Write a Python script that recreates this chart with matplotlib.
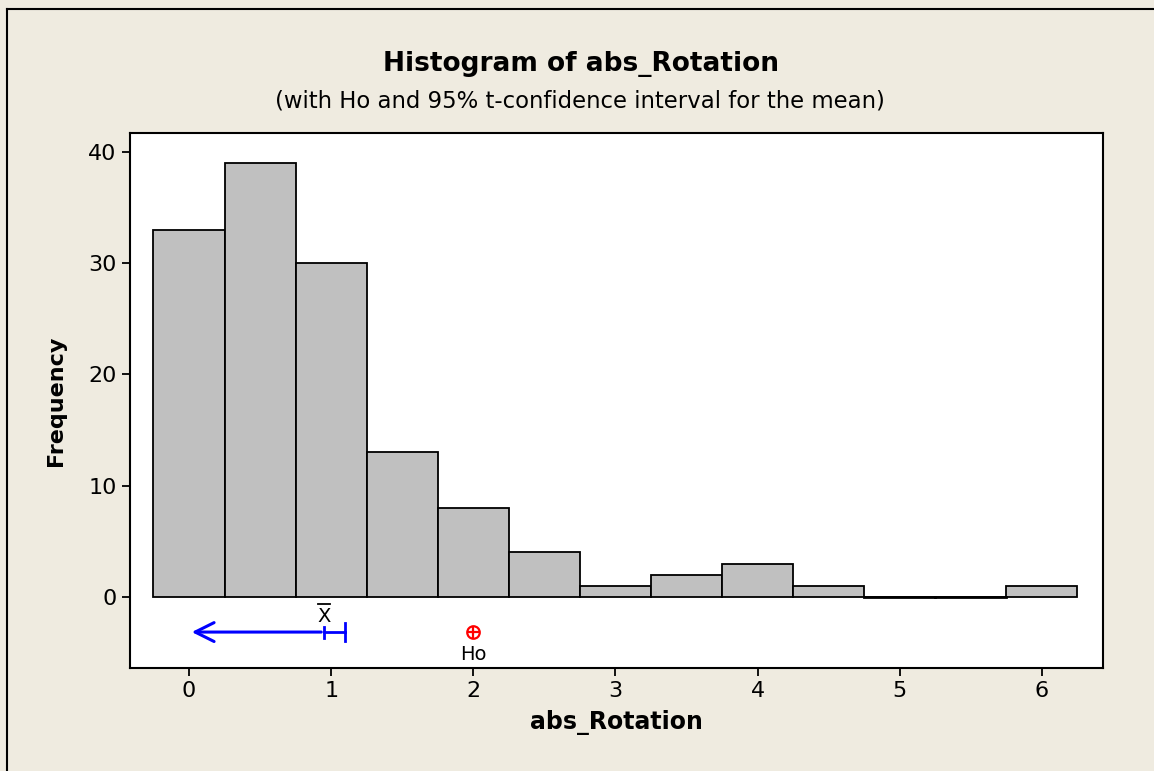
import numpy as np
import matplotlib
matplotlib.use("Agg")
from matplotlib import pyplot as plt
from matplotlib.lines import Line2D

# histogram data (bin centres and counts)
bin_centres = [0, 0.5, 1, 1.5, 2, 2.5, 3, 3.5, 4, 4.5, 5, 5.5, 6]
counts = [33, 39, 30, 13, 8, 4, 1, 2, 3, 1, 0, 0, 1]
bin_width = 0.5

# t-interval for the mean and hypothesised mean
x_mean = 0.95
ci_low = 0.0
ci_high = 1.10
h0 = 2.0

xticks = [0, 1, 2, 3, 4, 5, 6]
yticks = [0, 10, 20, 30, 40]

plt.rcParams['font.family'] = ['DejaVu Sans']
bg = '#EFEBE0'

fig = plt.figure(figsize=(11.54, 7.71), dpi=100, facecolor=bg)
ax = fig.add_axes([130/1154, 1-668/771, (1103-130)/1154, (668-133)/771])
ax.set_facecolor('white')

ax.bar(bin_centres, counts, width=bin_width, color='#C0C0C0', edgecolor='black', linewidth=1.3)
# empty bins still show as a line on the baseline
for c, n in zip(bin_centres, counts):
    if n == 0:
        ax.plot([c - bin_width/2, c + bin_width/2], [0, 0], color='black', lw=2)

# confidence interval line with arrow towards lower end
yci = -3.15
ax.annotate('', xy=(ci_low, yci), xytext=(x_mean, yci),
            arrowprops=dict(arrowstyle='->', color='blue', lw=2.2, mutation_scale=34))
ax.plot([x_mean, ci_high], [yci, yci], color='blue', lw=2)
ax.plot([ci_high, ci_high], [yci - 0.8, yci + 0.8], color='blue', lw=2)
ax.plot([x_mean, x_mean], [yci - 0.55, yci + 0.45], color='blue', lw=2)
ax.text(x_mean, -1.75, 'X', ha='center', va='center', fontsize=14)
ax.plot([x_mean - 0.04, x_mean + 0.04], [-0.6, -0.6], color='black', lw=1.3)

ax.plot(h0, yci, marker='o', ms=9, mfc='none', mec='red', mew=1.6)
ax.plot(h0, yci, marker='+', ms=9, color='red', mew=1.6)
ax.text(h0, -5.2, 'Ho', ha='center', va='center', fontsize=14)

ax.set_xlim(-0.415, 6.43)
ax.set_ylim(-6.38, 41.7)
ax.set_xticks(xticks)
ax.set_yticks(yticks)
ax.tick_params(labelsize=16, length=6, width=1.3)
for s in ax.spines.values():
    s.set_linewidth(1.5)

ax.set_xlabel('abs_Rotation', fontsize=17, fontweight='bold', labelpad=6)
ax.set_ylabel('Frequency', fontsize=16, fontweight='bold', labelpad=16)

fig.text(581/1154, 1-64/771, 'Histogram of abs_Rotation', ha='center', va='center',
         fontsize=19, fontweight='bold')
fig.text(580/1154, 1-101/771, '(with Ho and 95% t-confidence interval for the mean)',
         ha='center', va='center', fontsize=16.4)

# outer frame lines (left and top)
fig.add_artist(Line2D([7/1154, 7/1154], [0, 1-9/771], color='black', lw=1.5, transform=fig.transFigure))
fig.add_artist(Line2D([7/1154, 1], [1-9/771, 1-9/771], color='black', lw=1.5, transform=fig.transFigure))

fig.savefig('out.png', dpi=100, facecolor=bg)
